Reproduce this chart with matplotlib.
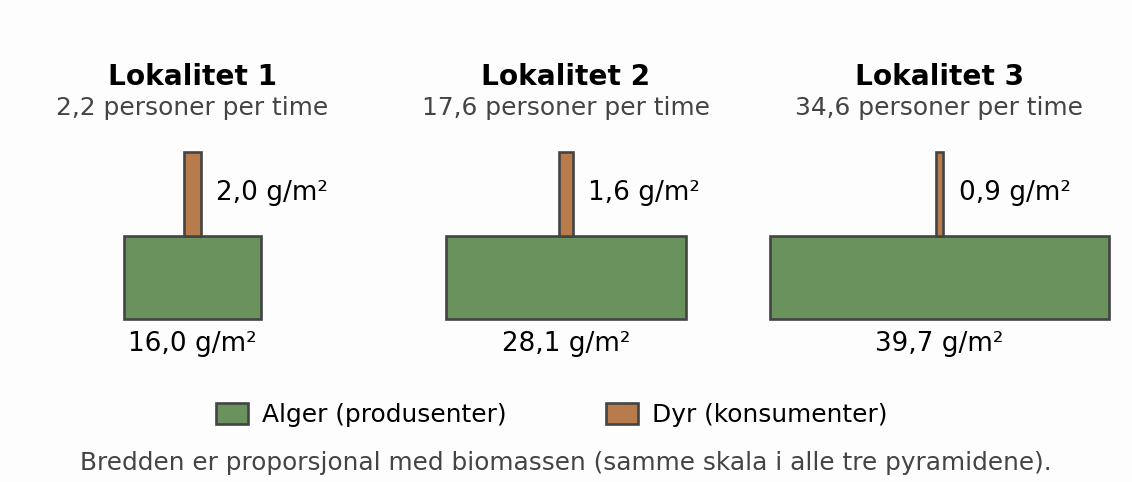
import matplotlib
matplotlib.use("Agg")
import matplotlib.pyplot as plt
from matplotlib.patches import Patch

# Data
sites = ["Lokalitet 1", "Lokalitet 2", "Lokalitet 3"]
visitors = ["2,2 personer per time", "17,6 personer per time", "34,6 personer per time"]
algae = [16.0, 28.1, 39.7]
animals = [2.0, 1.6, 0.9]
algae_labels = ["16,0 g/m²", "28,1 g/m²", "39,7 g/m²"]
animal_labels = ["2,0 g/m²", "1,6 g/m²", "0,9 g/m²"]
legend_labels = ["Alger (produsenter)", "Dyr (konsumenter)"]
footer = "Bredden er proporsjonal med biomassen (samme skala i alle tre pyramidene)."

GREEN = "#6a925c"
BROWN = "#b87c4c"
EDGE = "#444444"
GRAY = "#444444"

W, H = 1132, 482
PX_PER_UNIT = 8.56
fig = plt.figure(figsize=(W / 100, H / 100), dpi=100)
fig.patch.set_facecolor("#fdfdfd")
ax = fig.add_axes([0, 0, 1, 1])
ax.set_xlim(0, W / PX_PER_UNIT)
ax.set_ylim(H, 0)
ax.axis("off")

centers_px = [192.5, 566, 939.5]
centers = [c / PX_PER_UNIT for c in centers_px]

ax.bar(centers, [83] * 3, width=algae, bottom=236, color=GREEN,
       edgecolor=EDGE, linewidth=1.9, zorder=2)
ax.bar(centers, [84] * 3, width=animals, bottom=152, color=BROWN,
       edgecolor=EDGE, linewidth=1.9, zorder=3)

for c, s, v, a, al, an, anl in zip(centers, sites, visitors, algae, algae_labels,
                                      animals, animal_labels):
    ax.text(c, 85, s, ha="center", va="baseline", fontsize=20.2,
            fontweight="bold", color="black")
    ax.text(c, 115, v, ha="center", va="baseline", fontsize=17.9, color=GRAY)
    ax.text(c, 351, al, ha="center", va="baseline", fontsize=18.9, color="black")
    ax.annotate(anl, xy=(c + an / 2, 200), xytext=(11, 0),
                textcoords="offset points", ha="left", va="baseline",
                fontsize=18.9, color="black")

handles = [Patch(facecolor=GREEN, edgecolor=EDGE, linewidth=1.9),
           Patch(facecolor=BROWN, edgecolor=EDGE, linewidth=1.9)]
fig.legend(handles, legend_labels, loc="center",
           bbox_to_anchor=(552 / W, 1 - 415 / H), ncol=2, frameon=False,
           fontsize=17.9, handlelength=1.28, handleheight=0.95,
           handletextpad=0.56, columnspacing=4.0, borderaxespad=0)

ax.text(W / 2 / PX_PER_UNIT, 470, footer, ha="center", va="baseline",
        fontsize=17.8, color=GRAY)

fig.savefig("out.png", dpi=100, facecolor=fig.get_facecolor())
